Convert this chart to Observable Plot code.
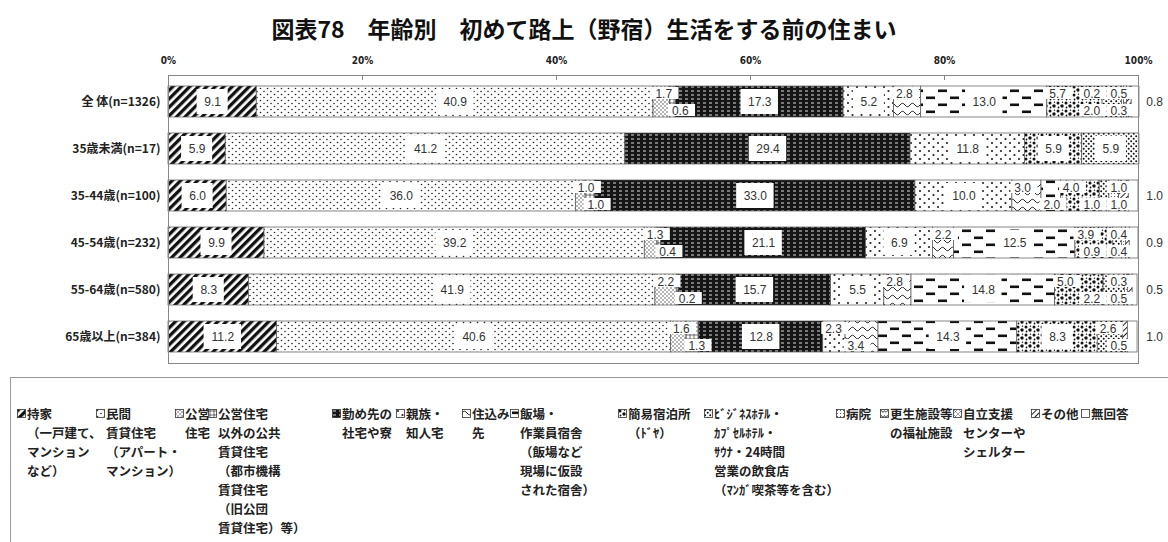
<!DOCTYPE html>
<html><head><meta charset="utf-8">
<script src="https://cdn.jsdelivr.net/npm/d3@7"></script>
<script src="https://cdn.jsdelivr.net/npm/@observablehq/plot@0.6"></script>
<style>
body{margin:0;background:#fff;font-family:"Noto Sans CJK JP",sans-serif;}
#wrap{position:relative;width:1168px;height:542px;overflow:hidden;}
#title{position:absolute;left:0;top:13px;width:1168px;text-align:center;font-size:23px;font-weight:700;color:#111;line-height:30px;}
#chart{position:absolute;left:0;top:45px;}
#legend{position:absolute;left:10px;top:377px;width:1170px;height:200px;border:1px solid #999;box-sizing:border-box;}
.item{position:absolute;top:26px;font-size:12.5px;font-weight:700;line-height:19px;color:#222;white-space:nowrap;}
.item svg{position:absolute;left:-10px;top:5px;}
#defs{position:absolute;width:0;height:0;}
</style></head>
<body>
<svg id="defs" width="0" height="0"><defs>
<pattern id="p0" width="6" height="6" patternUnits="userSpaceOnUse" patternTransform="rotate(45)"><rect width="6" height="6" fill="#fff"/><rect width="3.3" height="6" fill="#111"/></pattern>
<pattern id="p1" width="7" height="6" patternUnits="userSpaceOnUse"><rect width="7" height="6" fill="#fff"/><circle cx="1.5" cy="1.5" r="0.8" fill="#222"/><circle cx="5" cy="4.5" r="0.8" fill="#222"/></pattern>
<pattern id="p2" width="4" height="4" patternUnits="userSpaceOnUse"><rect width="4" height="4" fill="#fff"/><circle cx="1" cy="1" r="0.7" fill="#333"/><circle cx="3" cy="3" r="0.7" fill="#333"/></pattern>
<pattern id="p3" width="4" height="4" patternUnits="userSpaceOnUse"><rect width="4" height="4" fill="#fff"/><path d="M0 2H4M2 0V4" stroke="#333" stroke-width="0.7"/></pattern>
<pattern id="p4" width="6" height="4" patternUnits="userSpaceOnUse"><rect width="6" height="4" fill="#151515"/><rect x="1" y="1.5" width="3" height="1" fill="#ddd"/></pattern>
<pattern id="p5" width="9" height="8" patternUnits="userSpaceOnUse"><rect width="9" height="8" fill="#fff"/><circle cx="2" cy="2" r="1.1" fill="#222"/><circle cx="6.5" cy="6" r="1.1" fill="#222"/></pattern>
<pattern id="p6" width="10" height="8" patternUnits="userSpaceOnUse"><rect width="10" height="8" fill="#fff"/><path d="M0 4Q2.5 0.5 5 4T10 4" stroke="#222" stroke-width="1" fill="none"/></pattern>
<pattern id="p7" width="24" height="14" patternUnits="userSpaceOnUse"><rect width="24" height="14" fill="#fff"/><rect x="2" y="2.5" width="9" height="2.6" fill="#111"/><rect x="14" y="9.5" width="9" height="2.6" fill="#111"/></pattern>
<pattern id="p8" width="8" height="8" patternUnits="userSpaceOnUse"><rect width="8" height="8" fill="#fff"/><circle cx="2" cy="2" r="1.5" fill="#111"/><circle cx="6" cy="5" r="1.7" fill="#111"/><circle cx="2.5" cy="6.5" r="0.9" fill="#111"/><circle cx="6.5" cy="1.2" r="0.7" fill="#111"/></pattern>
<pattern id="p9" width="5" height="5" patternUnits="userSpaceOnUse"><rect width="5" height="5" fill="#fff"/><circle cx="1.2" cy="1.2" r="1" fill="#111"/><circle cx="3.7" cy="3.7" r="1" fill="#111"/></pattern>
<pattern id="p10" width="3" height="3" patternUnits="userSpaceOnUse"><rect width="3" height="3" fill="#fff"/><circle cx="1.5" cy="1.5" r="0.5" fill="#333"/></pattern>
<pattern id="p11" width="6" height="5" patternUnits="userSpaceOnUse"><rect width="6" height="5" fill="#fff"/><path d="M0 3.5L1.5 1.5L3 3.5L4.5 1.5L6 3.5" stroke="#222" stroke-width="0.8" fill="none"/></pattern>
<pattern id="p12" width="5" height="5" patternUnits="userSpaceOnUse"><rect width="5" height="5" fill="#fff"/><path d="M0 0L5 5M5 0L0 5" stroke="#444" stroke-width="0.5"/></pattern>
<pattern id="p13" width="4" height="4" patternUnits="userSpaceOnUse" patternTransform="rotate(45)"><rect width="4" height="4" fill="#fff"/><rect width="1" height="4" fill="#222"/></pattern>
<pattern id="p14" width="4" height="4" patternUnits="userSpaceOnUse"><rect width="4" height="4" fill="#fff"/></pattern>
</defs></svg>
<div id="wrap">
<div id="title">図表78　年齢別　初めて路上（野宿）生活をする前の住まい</div>
<div id="chart"></div>
<div id="legend"></div>
</div>
<script>
// ---- data ----
const rows = ["全 体(n=1326)", "35歳未満(n=17)", "35-44歳(n=100)", "45-54歳(n=232)", "55-64歳(n=580)", "65歳以上(n=384)"];
const cats = ["持家", "民間賃貸住宅", "公営住宅", "公営住宅以外の公共賃貸住宅", "勤め先の社宅や寮", "親族・知人宅", "住込み先", "飯場・作業員宿舎", "簡易宿泊所", "ビジネスホテル等", "病院", "更生施設等の福祉施設", "自立支援センターやシェルター", "その他", "無回答"];
const valuesAll  = [9.1, 40.9, 1.7, 0.6, 17.3, 5.2, 2.8, 13.0, 5.7, 2.0, 0.2, 0.3, 0, 0.5, 0.8];
const valuesU35  = [5.9, 41.2, 0, 0, 29.4, 11.8, 0, 0, 5.9, 5.9, 0, 0, 0, 0, 0];
const values3544 = [6.0, 36.0, 1.0, 1.0, 33.0, 10.0, 3.0, 2.0, 4.0, 1.0, 1.0, 0, 0, 1.0, 1.0];
const values4554 = [9.9, 39.2, 1.3, 0.4, 21.1, 6.9, 2.2, 12.5, 3.9, 0.9, 0.4, 0, 0, 0.4, 0.9];
const values5564 = [8.3, 41.9, 2.2, 0.2, 15.7, 5.5, 2.8, 14.8, 5.0, 2.2, 0.3, 0, 0, 0.5, 0.5];
const values65   = [11.2, 40.6, 1.6, 1.3, 12.8, 2.3, 3.4, 14.3, 8.3, 2.6, 0, 0, 0, 0.5, 1.0];
const xTicks = [0, 20, 40, 60, 80, 100];
const legendLines = [
  ["持家", "（一戸建て、", "マンション", "など）"],
  ["民間", "賃貸住宅", "（アパート・", "マンション）"],
  ["公営", "住宅"],
  ["公営住宅", "以外の公共", "賃貸住宅", "（都市機構", "賃貸住宅", "（旧公団", "賃貸住宅）等）"],
  ["勤め先の", "社宅や寮"],
  ["親族・", "知人宅"],
  ["住込み", "先"],
  ["飯場・", "作業員宿舎", "（飯場など", "現場に仮設", "された宿舎）"],
  ["簡易宿泊所", "（ﾄﾞﾔ）"],
  ["ﾋﾞｼﾞﾈｽﾎﾃﾙ・", "ｶﾌﾟｾﾙﾎﾃﾙ・", "ｻｳﾅ・24時間", "営業の飲食店", "（ﾏﾝｶﾞ喫茶等を含む）"],
  ["病院"],
  ["更生施設等", "の福祉施設"],
  ["自立支援", "センターや", "シェルター"],
  ["その他"],
  ["無回答"]
];
const rowValues = [valuesAll, valuesU35, values3544, values4554, values5564, values65];

// ---- layout ----
const W = 1168, ML = 168, MR = 30;
const pxPerPct = (W - ML - MR) / 100;
const segs = [];
rows.forEach((r, ri) => {
  let c = 0;
  rowValues[ri].forEach((v, i) => {
    if (v > 0) segs.push({row: r, cat: cats[i], i, v, x1: c, x2: c + v});
    c += v;
  });
});
const labels = [];
rows.forEach(r => {
  const rs = segs.filter(s => s.row === r);
  let up = true;
  rs.forEach(s => {
    const t = s.v.toFixed(1);
    const w = (t.length * 6.4 + 1) / pxPerPct;
    if (s.v >= (s.i < 8 ? 5 : 5.8)) { labels.push({...s, t, w, kind: "in", x: (s.x1 + s.x2) / 2}); up = true; }
    else if (s.i === cats.length - 1) labels.push({...s, t, w, kind: "right", x: 100.8});
    else { labels.push({...s, t, w, kind: up ? "up" : "down", x: s.x1 + 0.2}); up = !up; }
  });
  for (const k of ["up", "down"]) {
    const L = labels.filter(l => l.row === r && l.kind === k);
    let lim = 99.2;
    for (let j = L.length - 1; j >= 0; j--) {
      const l = L[j];
      const end = Math.min(l.x + l.w, lim);
      l.x = end - l.w;
      lim = l.x - 0.7;
    }
  }
});
const pad = 0.35;
const inL = labels.filter(l => l.kind === "in");
const upL = labels.filter(l => l.kind === "up");
const dnL = labels.filter(l => l.kind === "down");
const rtL = labels.filter(l => l.kind === "right");
const numFont = '"Liberation Sans", Arial, sans-serif';

const chart = Plot.plot({
  width: W, height: 326, marginTop: 30, marginBottom: 8, marginLeft: ML, marginRight: MR,
  x: {domain: [0, 100]},
  y: {domain: rows, paddingInner: 0.33, paddingOuter: 0.18},
  color: {type: "ordinal", domain: cats, range: cats.map((_, i) => `url(#p${i})`)},
  style: {fontFamily: '"Noto Sans CJK JP", sans-serif', color: "#222", background: "#fff"},
  marks: [
    Plot.barX(segs, {x1: "x1", x2: "x2", y: "row", fill: "cat", stroke: "#555", strokeWidth: 0.7}),
    Plot.barX(inL, {x1: d => d.x - d.w / 2 - pad * 1.6, x2: d => d.x + d.w / 2 + pad * 1.6, y: "row", fill: "white", insetTop: 3, insetBottom: 3}),
    Plot.barX(upL, {x1: d => d.x - pad, x2: d => d.x + d.w + pad, y: "row", fill: "white", insetTop: 1, insetBottom: 18}),
    Plot.barX(dnL, {x1: d => d.x - pad, x2: d => d.x + d.w + pad, y: "row", fill: "white", insetTop: 18, insetBottom: 1}),
    Plot.text(inL, {x: "x", y: "row", text: "t", fontSize: 12, fill: "#333", fontFamily: numFont}),
    Plot.text(upL, {x: "x", y: "row", text: "t", dy: -8, textAnchor: "start", fontSize: 12, fill: "#333", fontFamily: numFont}),
    Plot.text(dnL, {x: "x", y: "row", text: "t", dy: 9, textAnchor: "start", fontSize: 12, fill: "#333", fontFamily: numFont}),
    Plot.text(rtL, {x: "x", y: "row", text: "t", textAnchor: "start", fontSize: 12, fill: "#333", fontFamily: numFont}),
    Plot.frame({stroke: "#888"}),
    Plot.ruleX(xTicks.slice(1, -1), {stroke: "#888", insetBottom: 283}),
    Plot.axisX({anchor: "top", ticks: xTicks, tickFormat: d => d + "%", tickSize: 0, tickPadding: 12, fontSize: 10, fontWeight: "bold", label: null, fontFamily: '"Liberation Sans Narrow", "DejaVu Sans Condensed", sans-serif'}),
    Plot.axisY({tickSize: 0, tickPadding: 8, fontSize: 12, fontWeight: "bold", label: null})
  ]
});
document.getElementById("chart").appendChild(chart);

// ---- legend ----
const legendX = [16, 95, 174, 207, 331, 395, 461, 509, 617, 703, 835, 879, 952, 1030, 1080];
const leg = document.getElementById("legend");
legendLines.forEach((lines, i) => {
  const d = document.createElement("div");
  d.className = "item";
  d.style.left = legendX[i] + "px";
  d.innerHTML = `<svg width="9" height="9"><rect x="0.5" y="0.5" width="8" height="8" fill="url(#p${i})" stroke="#333" stroke-width="0.8"/></svg>` +
    lines.map((t, j) => j === 0 ? t : `<br>${t}`).join("");
  leg.appendChild(d);
});
</script>
</body></html>
